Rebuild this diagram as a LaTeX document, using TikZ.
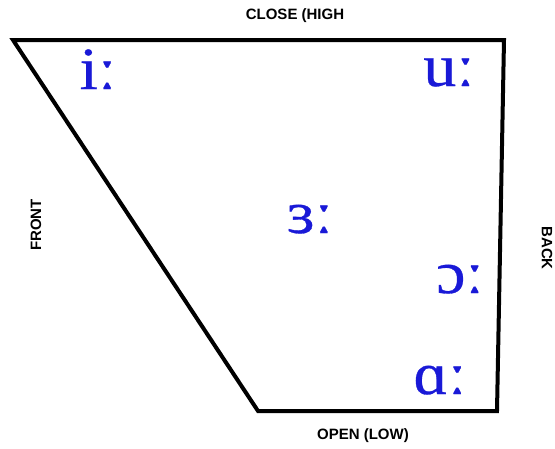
\documentclass[tikz,border=0pt]{standalone}
\usepackage{fontspec}
\setmainfont{Liberation Serif}
\setsansfont{Liberation Sans}
\newfontfamily\vowelfont[FakeBold=0.5]{Liberation Serif}
\usepackage{tikz}
\usetikzlibrary{calc}

\definecolor{vowelblue}{RGB}{25,25,215}

\tikzset{
  edge label/.style={font=\sffamily\bfseries\fontsize{15}{15}\selectfont},
  vowel/.style={anchor=base, text=vowelblue, inner sep=0pt, xscale=1.1,
    font=\vowelfont\fontsize{60}{60}\selectfont}
}

\begin{document}
\begin{tikzpicture}[x=1pt, y=-1pt]
            \useasboundingbox (0,0) rectangle (555,448);
            % corners of the vowel space
            \coordinate (closefront) at (13, 40);
            \coordinate (closeback) at (504, 40);
            \coordinate (openback) at (497, 411);
            \coordinate (openfront) at (258, 411);
            \draw[line width=4pt, line join=miter] (closefront) -- (closeback) -- (openback) -- (openfront) -- cycle;
            % axis labels
            \node[edge label] (close) at (295, 16) {CLOSE (HIGH};
            \node[edge label] (open) at (363, 436) {OPEN (LOW)};
            \node[edge label, rotate=90] (front) at (36, 225) {FRONT};
            \node[edge label, rotate=-90] (back) at (547, 248) {BACK};
            % long vowels
            \node[vowel] (ii) at (98, 89) {iː};
            \node[vowel] (uu) at (449, 86) {uː};
            \node[vowel] (er) at (310, 233) {ɜː};
            \node[vowel] (oo) at (460, 293) {ɔː};
            \node[vowel] (aa) at (440, 394) {ɑː};
        \end{tikzpicture}
\end{document}
